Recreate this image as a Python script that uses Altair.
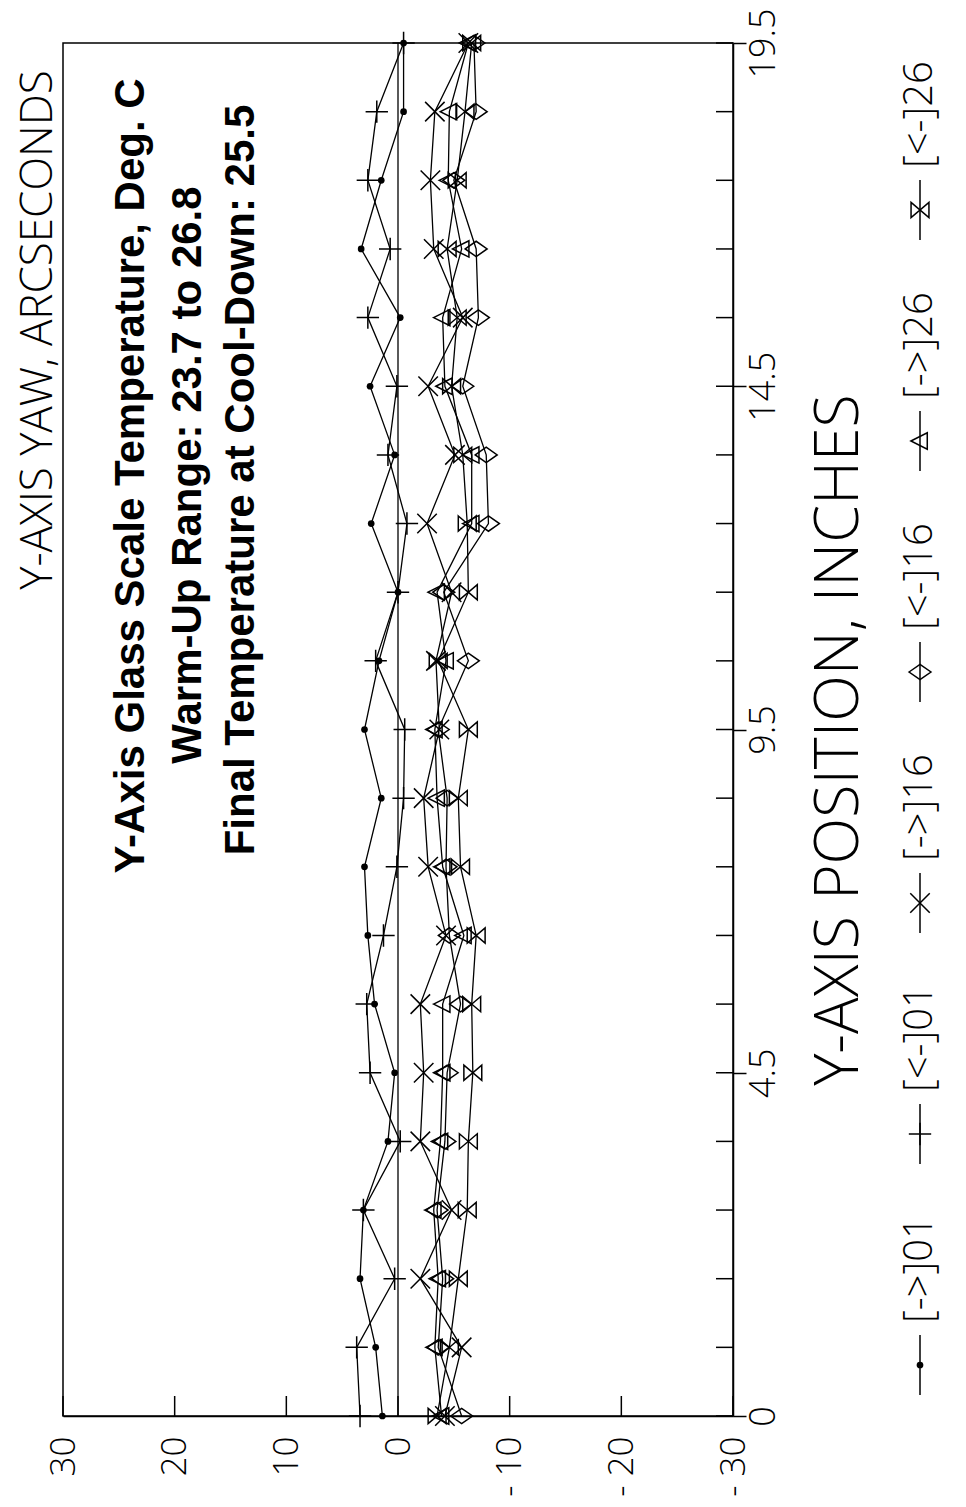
import altair as alt
import pandas as pd

# ---------------- data ----------------
positions = ["0", "0.5", "1.5", "2.5", "3.5", "4.5", "5.5", "6.5", "7.5", "8.5", "9.5",
             "10.5", "11.5", "12.5", "13.5", "14.5", "15.5", "16.5", "17.5", "18.5", "19.5"]
label_positions = ["0", "4.5", "9.5", "14.5", "19.5"]
value_ticks = [30, 20, 10, 0, -10, -20, -30]

series_names = ["[->]01", "[<-]01", "[->]16", "[<-]16", "[->]26", "[<-]26"]
fwd01 = [1.4, 2.0, 3.4, 3.1, 0.9, 0.3, 2.1, 2.7, 3.0, 1.5, 3.0, 1.7, 0.0, 2.4, 0.3, 2.5, -0.2, 3.3, 1.5, -0.5, -0.5]
rev01 = [3.4, 3.7, 0.3, 3.1, -0.2, 2.5, 2.8, 1.3, 0.1, -0.5, -0.6, 2.0, 0.0, -0.8, 0.9, 0.1, 2.7, 0.7, 2.7, 1.9, -0.5]
fwd16 = [-4.2, -5.7, -2.0, -4.8, -2.0, -2.3, -2.0, -4.3, -2.7, -2.3, -3.7, -3.4, -4.8, -2.6, -5.1, -2.7, -5.8, -3.2, -2.9, -3.3, -6.3]
rev16 = [-5.7, -3.6, -4.0, -3.5, -4.2, -4.4, -5.6, -4.6, -4.3, -4.4, -3.6, -6.3, -4.1, -8.1, -7.9, -5.8, -7.2, -7.0, -5.0, -7.0, -6.8]
fwd26 = [-3.9, -3.3, -3.6, -3.2, -3.8, -4.0, -4.0, -5.9, -4.0, -3.5, -3.3, -4.3, -3.5, -6.6, -6.6, -4.2, -4.0, -5.7, -4.5, -4.6, -6.3]
rev26 = [-3.5, -4.6, -5.4, -6.2, -6.3, -6.7, -6.6, -7.0, -5.6, -5.4, -6.3, -3.6, -6.3, -6.2, -5.8, -4.8, -5.3, -4.4, -5.3, -6.0, -6.6]

annotation_lines = ["Y-Axis Glass Scale Temperature, Deg. C",
                    "Warm-Up Range: 23.7 to 26.8",
                    "Final Temperature at Cool-Down: 25.5"]
yaw_title = "Y-AXIS YAW, ARCSECONDS"
pos_title = "Y-AXIS POSITION, INCHES"

# ---------------- styling ----------------
W, H = 670, 1373
LIGHT = "Open Sans"
BOLD = "Liberation Sans"

shape_paths = {
    "[<-]01": "M-1,0L1,0M0,-1L0,1",
    "[->]16": "M-1,-1L1,1M-1,1L1,-1",
    "[<-]16": "M-1,0L0,-0.7L1,0L0,0.7Z",
    "[->]26": "M-1,0L0.8,-0.9L0.8,0.9Z",
    "[<-]26": "M-1,-0.85L1,0.85L1,-0.85L-1,0.85Z",
}
shape_sizes = {"[<-]01": 500, "[->]16": 380, "[<-]16": 480, "[->]26": 330, "[<-]26": 320}

series_vals = [fwd01, rev01, fwd16, rev16, fwd26, rev26]
rows = []
for name, vals in zip(series_names, series_vals):
    for i, (p, v) in enumerate(zip(positions, vals)):
        rows.append({"series": name, "pos": p, "idx": i, "yaw": v})
df = pd.DataFrame(rows)

x_axis = alt.Axis(values=value_ticks, title=None, grid=False, ticks=False,
                  labelExpr="datum.value < 0 ? '- ' + abs(datum.value) : '' + datum.value",
                  labelAngle=270, labelAlign="right", labelBaseline="middle",
                  labelPadding=20, labelFlush=False, labelOverlap=False, labelBound=False,
                  labelFont=LIGHT, labelFontWeight=300, labelFontSize=35, labelColor="black",
                  domainColor="black", domainWidth=1.5)
y_axis = alt.Axis(orient="right", values=label_positions, title=None, grid=False,
                  tickSize=13, tickColor="black", tickWidth=1.5, labelPadding=0,
                  labelAngle=270, labelAlign="center", labelBaseline="top",
                  labelFlush=False, labelOverlap=False, labelBound=False,
                  labelFont=LIGHT, labelFontWeight=300, labelFontSize=36, labelColor="black",
                  domainColor="black", domainWidth=1.5)


def X():
    return alt.X("yaw:Q", scale=alt.Scale(domain=[-30, 30], reverse=True, nice=False, zero=False),
                 axis=x_axis)


def Y():
    return alt.Y("pos:O", scale=alt.Scale(type="point", domain=positions, reverse=True, padding=0),
                 axis=y_axis, sort=positions)


layers = []

# zero line
layers.append(alt.Chart(pd.DataFrame({"yaw": [0]})).mark_rule(color="black", strokeWidth=1.3)
              .encode(x=X(), y=alt.value(0), y2=alt.value(H)))

# inward ticks
layers.append(alt.Chart(pd.DataFrame({"yaw": value_ticks})).mark_rule(color="black", strokeWidth=1.5)
              .encode(x=X(), y=alt.value(H), y2=alt.value(H - 20)))
layers.append(alt.Chart(pd.DataFrame({"pos": positions})).mark_rule(color="black", strokeWidth=1.5)
              .encode(y=Y(), x=alt.value(W - 17), x2=alt.value(W)))

# series lines
layers.append(alt.Chart(df).mark_line(color="black", strokeWidth=1.3)
              .encode(x=X(), y=Y(), detail="series:N", order="idx:Q"))

# markers
for name in series_names:
    sub = alt.Chart(df).transform_filter(alt.datum.series == name)
    if name == "[->]01":
        layers.append(sub.mark_point(filled=True, color="black", shape="circle", size=45, opacity=1)
                      .encode(x=X(), y=Y()))
    else:
        layers.append(sub.mark_point(filled=False, color="black", strokeWidth=1.5, opacity=1,
                                     shape=shape_paths[name], size=shape_sizes[name])
                      .encode(x=X(), y=Y()))

one = alt.Data(values=[{"a": 1}])

# annotation text (rotated)
ann_pos = [(68, 433), (125, 432), (178, 437)]
for txt, (ax, ay) in zip(annotation_lines, ann_pos):
    layers.append(alt.Chart(one).mark_text(text=txt, angle=270, align="center", baseline="middle",
                                           font=BOLD, fontWeight="bold", fontSize=42, color="black")
                  .encode(x=alt.value(ax), y=alt.value(ay)))

# titles
layers.append(alt.Chart(one).mark_text(text=yaw_title, angle=270, align="center", baseline="middle",
                                       font=LIGHT, fontWeight=300, fontSize=44, color="black")
              .encode(x=alt.value(-24), y=alt.value(287)))
layers.append(alt.Chart(one).mark_text(text=pos_title, angle=270, align="center", baseline="middle",
                                       font=LIGHT, fontWeight=300, fontSize=61, color="black")
              .encode(x=alt.value(777), y=alt.value(697)))

# legend (rotated, along the right edge)
LX = 857
for k, name in enumerate(series_names):
    cy = 1322 - k * 231
    layers.append(alt.Chart(one).mark_rule(color="black", strokeWidth=1.5)
                  .encode(x=alt.value(LX), y=alt.value(cy - 30), y2=alt.value(cy + 30)))
    if name == "[->]01":
        layers.append(alt.Chart(one).mark_point(filled=True, color="black", shape="circle", size=45, opacity=1)
                      .encode(x=alt.value(LX), y=alt.value(cy)))
    else:
        layers.append(alt.Chart(one).mark_point(filled=False, color="black", strokeWidth=1.5, opacity=1,
                                                shape=shape_paths[name], size=shape_sizes[name])
                      .encode(x=alt.value(LX), y=alt.value(cy)))
    layers.append(alt.Chart(one).mark_text(text=name, angle=270, align="left", baseline="middle",
                                           font=LIGHT, fontWeight=300, fontSize=40, color="black")
                  .encode(x=alt.value(LX), y=alt.value(cy - 42)))

chart = alt.layer(*layers).properties(
    width=W, height=H,
    autosize=alt.AutoSizeParams(type="none"),
    padding={"left": 55, "top": 35, "right": 225, "bottom": 83},
    background="white",
).configure_view(stroke="black", strokeWidth=1.5)

chart.save("out.html", embed_options={"renderer": "svg", "actions": False})
